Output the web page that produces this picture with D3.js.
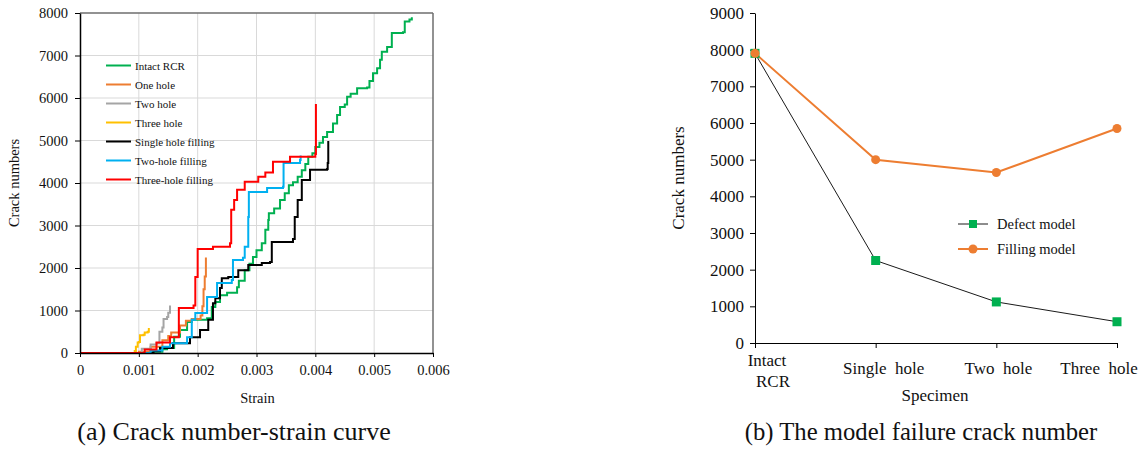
<!DOCTYPE html>
<html>
<head>
<meta charset="utf-8">
<script src="https://cdn.jsdelivr.net/npm/d3@7"></script>
<style>
  body { margin: 0; background: #fff; }
  svg text { font-family: "Liberation Serif", "Times New Roman", "DejaVu Serif", serif; fill: #111; }
</style>
</head>
<body>
<svg id="canvas" width="1143" height="452"></svg>
<script>
// ---- chart (a) data : [strain, crack number]
var intactRCR = [[0,0],[0.001,0],[0.0012,30],[0.0014,90],[0.00148,120],[0.0016,380],[0.0017,540],[0.00182,730],[0.0019,780],[0.00216,820],
  [0.00224,1080],[0.0023,1200],[0.00238,1360],[0.0025,1420],[0.00267,1550],[0.0027,1700],[0.0028,1950],[0.00288,2100],[0.00294,2260],
  [0.003,2420],[0.00309,2580],[0.00315,2900],[0.0032,3130],[0.00321,3290],[0.0033,3400],[0.0034,3600],[0.00348,3760],[0.00355,3950],
  [0.00362,4020],[0.0037,4150],[0.00377,4300],[0.00383,4450],[0.00388,4620],[0.00395,4700],[0.004,4850],[0.00407,4950],[0.00413,5080],
  [0.0042,5200],[0.0043,5400],[0.00437,5600],[0.00442,5790],[0.0045,5850],[0.00454,6030],[0.0046,6100],[0.00471,6230],[0.00488,6250],
  [0.00492,6400],[0.00498,6580],[0.00505,6700],[0.0051,6900],[0.00513,7090],[0.00522,7200],[0.0053,7530],[0.00549,7550],[0.00552,7800],
  [0.0056,7850],[0.00564,7900]]
var oneHole = [[0,0],[0.0007,0],[0.001,30],[0.0012,150],[0.0014,300],[0.0015,400],[0.00155,480],[0.0017,650],[0.0018,760],[0.0019,800],
  [0.00205,880],[0.00208,1100],[0.0021,1500],[0.00212,1800],[0.00214,2250]]
var twoHole = [[0,0],[0.0009,0],[0.00105,100],[0.0012,200],[0.0013,230],[0.00135,500],[0.0014,600],[0.00142,800],[0.00148,850],
  [0.0015,950],[0.00153,1120]]
var threeHole = [[0,0],[0.0008,0],[0.00093,50],[0.00095,150],[0.00098,250],[0.001,260],[0.00102,420],[0.00108,430],[0.0011,480],
  [0.00115,500],[0.00117,590]]
var singleFill = [[0,0],[0.0011,0],[0.00125,40],[0.00136,120],[0.00158,230],[0.00187,370],[0.00204,540],[0.00216,540],[0.00218,780],
  [0.00224,780],[0.00226,1170],[0.0023,1290],[0.00238,1530],[0.00241,1760],[0.00252,1790],[0.00269,1950],[0.00286,2070],[0.00309,2120],
  [0.00323,2140],[0.00326,2610],[0.00362,2680],[0.00365,3200],[0.0037,3600],[0.00377,4070],[0.00391,4310],[0.0042,4330],[0.00421,4470],
  [0.00422,4990]]
var twoHoleFill = [[0,0],[0.001,0],[0.0012,60],[0.0014,150],[0.00153,230],[0.00182,370],[0.0019,780],[0.00196,940],[0.00216,1320],
  [0.00233,1650],[0.00258,1720],[0.0026,2190],[0.00277,2240],[0.0028,2500],[0.00286,3200],[0.00287,3790],[0.00318,3880],[0.00345,3910],
  [0.00346,4470],[0.00374,4540],[0.00375,4650]]
var threeHoleFill = [[0,0],[0.00095,0],[0.0011,80],[0.0013,250],[0.00153,370],[0.00168,1060],[0.00193,1120],[0.00196,1790],[0.002,2450],
  [0.00226,2500],[0.00255,2580],[0.00257,3370],[0.00262,3600],[0.00267,3840],[0.0028,4030],[0.00303,4150],[0.00315,4250],[0.00328,4500],
  [0.00357,4620],[0.004,4680],[0.00401,5860]]

var seriesNames = ["Intact RCR", "One hole", "Two hole", "Three hole", "Single hole filling", "Two-hole filling", "Three-hole filling"]
var seriesColors = ["#00b050", "#ed7d31", "#a5a5a5", "#ffc000", "#000000", "#00b0f0", "#ff0000"]
var seriesData = [intactRCR, oneHole, twoHole, threeHole, singleFill, twoHoleFill, threeHoleFill]
var strainTicks = [0, 0.001, 0.002, 0.003, 0.004, 0.005, 0.006]
var crackTicksA = [0, 1000, 2000, 3000, 4000, 5000, 6000, 7000, 8000]

// ---- chart (b) data
var specimens = ["Intact RCR", "Single hole", "Two hole", "Three hole"]
var defectModel = [7900, 2250, 1120, 580]
var fillingModel = [7900, 5000, 4650, 5850]
var crackTicksB = [0, 1000, 2000, 3000, 4000, 5000, 6000, 7000, 8000, 9000]

var svg = d3.select("#canvas")

function drawChartA() {
  var left = 80, right = 433, top = 13, bottom = 353

  var x = d3.scaleLinear().domain([0, 0.006]).range([left, right])
  var y = d3.scaleLinear().domain([0, 8000]).range([bottom, top])

  var g = svg.append("g")

  // grid
  g.selectAll(".vgrid").data(strainTicks.slice(1, -1)).enter().append("line")
    .attr("x1", function(d) { return x(d) }).attr("x2", function(d) { return x(d) })
    .attr("y1", top).attr("y2", bottom)
    .attr("stroke", "#d9d9d9").attr("stroke-width", 1)
  g.selectAll(".hgrid").data(crackTicksA.slice(1, -1)).enter().append("line")
    .attr("x1", left).attr("x2", right)
    .attr("y1", function(d) { return y(d) }).attr("y2", function(d) { return y(d) })
    .attr("stroke", "#d9d9d9").attr("stroke-width", 1)

  // frame top + right
  g.append("line").attr("x1", left).attr("x2", right).attr("y1", top).attr("y2", top)
    .attr("stroke", "#6e6e6e").attr("stroke-width", 1.5)
  g.append("line").attr("x1", right).attr("x2", right).attr("y1", top).attr("y2", bottom)
    .attr("stroke", "#6e6e6e").attr("stroke-width", 1.5)

  // curves
  var line = d3.line()
    .x(function(d) { return x(d[0]) })
    .y(function(d) { return y(d[1]) })
    .curve(d3.curveStepAfter)

  for (var i = 0; i < seriesData.length; i++) {
    g.append("path")
      .attr("d", line(seriesData[i]))
      .attr("fill", "none")
      .attr("stroke", seriesColors[i])
      .attr("stroke-width", 2)
  }

  // axes
  var xAxis = d3.axisBottom(x).tickValues(strainTicks).tickSize(4).tickSizeOuter(0)
    .tickFormat(function(d) { return d === 0 ? "0" : d3.format(".3f")(d) })
  var xg = g.append("g").attr("transform", "translate(0," + bottom + ")").call(xAxis)
  xg.select(".domain").attr("stroke", "#000").attr("stroke-width", 1.5)
  xg.selectAll("text").style("font-size", "14.5px").attr("dy", "1.05em")

  var yAxis = d3.axisLeft(y).tickValues(crackTicksA).tickSize(5).tickSizeOuter(0).tickFormat(d3.format("d"))
  var yg = g.append("g").attr("transform", "translate(" + left + ",0)").call(yAxis)
  yg.select(".domain").attr("stroke", "#000").attr("stroke-width", 1.5)
  yg.selectAll("text").style("font-size", "14.5px").attr("dx", "-4")

  // labels
  g.append("text").attr("x", (left + right) / 2 + 1).attr("y", 403).attr("text-anchor", "middle")
    .style("font-size", "14.5px").text("Strain")
  g.append("text").attr("transform", "translate(19," + ((top + bottom) / 2) + ") rotate(-90)")
    .attr("text-anchor", "middle").style("font-size", "14.5px").text("Crack numbers")
  g.append("text").attr("x", 234).attr("y", 440).attr("text-anchor", "middle")
    .style("font-size", "26px").text("(a) Crack number-strain curve")

  // legend
  var lg = g.append("g")
  for (var j = 0; j < seriesNames.length; j++) {
    var ly = 65.5 + j * 19
    lg.append("line").attr("x1", 106).attr("x2", 131).attr("y1", ly).attr("y2", ly)
      .attr("stroke", seriesColors[j]).attr("stroke-width", 2)
    lg.append("text").attr("x", 135).attr("y", ly + 4).style("font-size", "11px").text(seriesNames[j])
  }
}

function drawChartB() {
  var left = 755, right = 1117, top = 13, bottom = 343

  var x = d3.scalePoint().domain(specimens).range([left, right])
  var y = d3.scaleLinear().domain([0, 9000]).range([bottom, top])

  var g = svg.append("g")

  var yAxis = d3.axisLeft(y).tickValues(crackTicksB).tickSize(5).tickSizeOuter(0).tickFormat(d3.format("d"))
  var yg = g.append("g").attr("transform", "translate(" + left + ",0)").call(yAxis)
  yg.select(".domain").attr("stroke", "#000")
  yg.selectAll("text").style("font-size", "17px").attr("dx", "-3")

  var xAxis = d3.axisBottom(x).tickSize(5).tickSizeOuter(0).tickFormat("")
  var xg = g.append("g").attr("transform", "translate(0," + bottom + ")").call(xAxis)
  xg.select(".domain").attr("stroke", "#000")

  // category labels (split in lines, shifted like the original)
  var catLines = [["Intact", "RCR"], ["Single  hole"], ["Two  hole"], ["Three  hole"]]
  var catShift = [[12, 18], [8], [2], [-18]]
  for (var i = 0; i < specimens.length; i++) {
    for (var k = 0; k < catLines[i].length; k++) {
      g.append("text")
        .attr("x", x(specimens[i]) + catShift[i][k])
        .attr("y", (catLines[i].length > 1 ? 366 : 374) + k * 21)
        .attr("text-anchor", "middle")
        .style("font-size", "17px")
        .style("white-space", "pre")
        .text(catLines[i][k])
    }
  }

  var line = d3.line()
    .x(function(d, i) { return x(specimens[i]) })
    .y(function(d) { return y(d) })

  g.append("path").attr("d", line(defectModel)).attr("fill", "none")
    .attr("stroke", "#1a1a1a").attr("stroke-width", 1)
  g.append("path").attr("d", line(fillingModel)).attr("fill", "none")
    .attr("stroke", "#ed7d31").attr("stroke-width", 2)

  g.selectAll(".sq").data(defectModel).enter().append("rect")
    .attr("x", function(d, i) { return x(specimens[i]) - 4.5 })
    .attr("y", function(d) { return y(d) - 4.5 })
    .attr("width", 9).attr("height", 9)
    .attr("fill", "#00b050")
  g.selectAll(".dot").data(fillingModel).enter().append("circle")
    .attr("cx", function(d, i) { return x(specimens[i]) })
    .attr("cy", function(d) { return y(d) })
    .attr("r", 4.5)
    .attr("fill", "#ed7d31")

  // labels
  g.append("text").attr("x", 935).attr("y", 401).attr("text-anchor", "middle")
    .style("font-size", "17px").text("Specimen")
  g.append("text").attr("transform", "translate(684," + ((top + bottom) / 2) + ") rotate(-90)")
    .attr("text-anchor", "middle").style("font-size", "17px").text("Crack numbers")
  g.append("text").attr("x", 921).attr("y", 440).attr("text-anchor", "middle")
    .style("font-size", "24.7px").text("(b) The model failure crack number")

  // legend
  var lg = g.append("g")
  lg.append("line").attr("x1", 958).attr("x2", 988).attr("y1", 224).attr("y2", 224).attr("stroke", "#1a1a1a")
  lg.append("rect").attr("x", 969).attr("y", 220).attr("width", 8).attr("height", 8).attr("fill", "#00b050")
  lg.append("text").attr("x", 997).attr("y", 229).style("font-size", "14.5px").text("Defect model")
  lg.append("line").attr("x1", 958).attr("x2", 988).attr("y1", 249).attr("y2", 249).attr("stroke", "#ed7d31").attr("stroke-width", 2)
  lg.append("circle").attr("cx", 973).attr("cy", 249).attr("r", 4.5).attr("fill", "#ed7d31")
  lg.append("text").attr("x", 997).attr("y", 254).style("font-size", "14.5px").text("Filling model")
}

drawChartA()
drawChartB()
</script>
</body>
</html>
